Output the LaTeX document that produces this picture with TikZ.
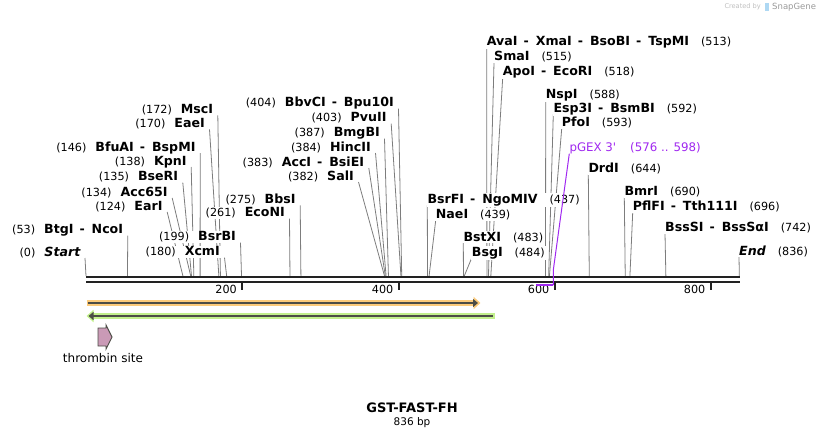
\documentclass[tikz,border=0pt]{standalone}
\usepackage{fontspec}
\setmainfont{DejaVu Sans}
\usetikzlibrary{arrows.meta,positioning}
\pgfdeclarelayer{bg}
\pgfsetlayers{bg,main}

\definecolor{cutgray}{RGB}{125,125,125}
\definecolor{bbdark}{RGB}{34,34,34}
\definecolor{featdark}{RGB}{77,77,70}
\definecolor{glowO}{RGB}{253,203,122}
\definecolor{glowG}{RGB}{194,240,140}
\definecolor{thrombin}{RGB}{202,154,182}
\definecolor{gexpurple}{RGB}{160,40,240}
\definecolor{sgblue}{RGB}{120,190,235}

\newcommand{\enz}[1]{{\fontsize{12.6}{14}\selectfont\bfseries #1}}
\newcommand{\dsh}{\hspace{6pt}-\hspace{7pt}}
\newcommand{\leftlab}[2]{(#1)\hspace{9pt}\enz{#2}}
\newcommand{\rightlab}[2]{\enz{#2}\hspace{12pt}(#1)}

\begin{document}
\begin{tikzpicture}[x=1pt,y=-1pt,
  lab/.style={inner sep=1pt, fill=white, font=\fontsize{11.2}{13}\selectfont},
  llab/.style={lab, anchor=base east},
  rlab/.style={lab, anchor=base west},
  cut/.style={cutgray, line width=0.8pt},
  bbline/.style={bbdark, line width=2.4pt},
  tickline/.style={bbdark, line width=2pt}]
\useasboundingbox (0,0) rectangle (826,439);

% cut sites on the backbone
\foreach \p in {0,53,124,134,135,138,146,170,172,180,199,261,275,382,383,384,387,403,404,
                437,439,483,484,513,515,518,588,592,593,644,690,696,742,836}
  \coordinate (c\p) at ({86+0.7815*\p},276);

% labels left of their line
\node[llab] at (81.5,256)	(Start) {(0)\hspace{9pt}\enz{\itshape Start}};
\node[llab] at (124.3,233.5)	(BtgI) {\leftlab{53}{BtgI\dsh NcoI}};
\node[llab] at (163.7,210)	(EarI) {\leftlab{124}{EarI}};
\node[llab] at (168.7,196)	(Acc65I) {\leftlab{134}{Acc65I}};
\node[llab] at (179.3,180.7)	(BseRI) {\leftlab{135}{BseRI}};
\node[llab] at (187.7,165)	(KpnI) {\leftlab{138}{KpnI}};
\node[llab] at (196.7,151)	(BfuAI) {\leftlab{146}{BfuAI\dsh BspMI}};
\node[llab] at (206,127.3)	(EaeI) {\leftlab{170}{EaeI}};
\node[llab] at (214.3,113.3)	(MscI) {\leftlab{172}{MscI}};
\node[llab] at (221,255.7)	(XcmI) {\leftlab{180}{XcmI}};
\node[llab] at (237,240.7)	(BsrBI) {\leftlab{199}{BsrBI}};
\node[llab] at (286,216.7)	(EcoNI) {\leftlab{261}{EcoNI}};
\node[llab] at (296.7,203.3)	(BbsI) {\leftlab{275}{BbsI}};
\node[llab] at (355,180)	(SalI) {\leftlab{382}{SalI}};
\node[llab] at (365.3,166)	(AccI) {\leftlab{383}{AccI\dsh BsiEI}};
\node[llab] at (372,151)	(HincII) {\leftlab{384}{HincII}};
\node[llab] at (381,136.7)	(BmgBI) {\leftlab{387}{BmgBI}};
\node[llab] at (387.7,121.7)	(PvuII) {\leftlab{403}{PvuII}};
\node[llab] at (395,106.7)	(BbvCI) {\leftlab{404}{BbvCI\dsh Bpu10I}};

% labels right of their line
\node[rlab] at (426.3,203.3)	(BsrFI) {\rightlab{437}{BsrFI\dsh NgoMIV}};
\node[rlab] at (434.7,218.3)	(NaeI) {\rightlab{439}{NaeI}};
\node[rlab] at (462.3,241)	(BstXI) {\rightlab{483}{BstXI}};
\node[rlab] at (470.7,256)	(BsgI) {\rightlab{484}{BsgI}};
\node[rlab] at (485.7,45.7)	(AvaI) {\rightlab{513}{AvaI\dsh XmaI\dsh BsoBI\dsh TspMI}};
\node[rlab] at (493,60.7)	(SmaI) {\rightlab{515}{SmaI}};
\node[rlab] at (501.7,75.7)	(ApoI) {\rightlab{518}{ApoI\dsh EcoRI}};
\node[rlab] at (544.7,98.3)	(NspI) {\rightlab{588}{NspI}};
\node[rlab] at (552.3,112.3)	(Esp3I) {\rightlab{592}{Esp3I\dsh BsmBI}};
\node[rlab] at (560.7,126.7)	(PfoI) {\rightlab{593}{PfoI}};
\node[rlab, text=gexpurple, font=\fontsize{11.8}{13}\selectfont] at (568.3,151.7) (pGEX) {pGEX 3\textquotesingle\hspace{14pt}(576 .. 598)};
\node[rlab] at (587.3,172.7)	(DrdI) {\rightlab{644}{DrdI}};
\node[rlab] at (623.3,195.7)	(BmrI) {\rightlab{690}{BmrI}};
\node[rlab] at (631.7,210.7)	(PflFI) {\rightlab{696}{PflFI\dsh Tth111I}};
\node[rlab] at (664,231.7)	(BssSI) {\rightlab{742}{BssSI\dsh BssSαI}};
\node[rlab] at (738,255)	(End) {\enz{\itshape End}\hspace{12pt}(836)};

\begin{pgfonlayer}{bg}
\draw[cut] ([shift={(3.5,2)}]Start.base east) -- (c0);
\draw[cut] ([shift={(3.5,2)}]BtgI.base east) -- (c53);
\draw[cut] ([shift={(3.5,2)}]EarI.base east) -- (c124);
\draw[cut] ([shift={(3.5,2)}]Acc65I.base east) -- (c134);
\draw[cut] ([shift={(3.5,2)}]BseRI.base east) -- (c135);
\draw[cut] ([shift={(3.5,2)}]KpnI.base east) -- (c138);
\draw[cut] ([shift={(3.5,2)}]BfuAI.base east) -- (c146);
\draw[cut] ([shift={(3.5,2)}]EaeI.base east) -- (c170);
\draw[cut] ([shift={(3.5,2)}]MscI.base east) -- (c172);
\draw[cut] ([shift={(3.5,2)}]XcmI.base east) -- (c180);
\draw[cut] ([shift={(3.5,2)}]BsrBI.base east) -- (c199);
\draw[cut] ([shift={(3.5,2)}]EcoNI.base east) -- (c261);
\draw[cut] ([shift={(3.5,2)}]BbsI.base east) -- (c275);
\draw[cut] ([shift={(3.5,2)}]SalI.base east) -- (c382);
\draw[cut] ([shift={(3.5,2)}]AccI.base east) -- (c383);
\draw[cut] ([shift={(3.5,2)}]HincII.base east) -- (c384);
\draw[cut] ([shift={(3.5,2)}]BmgBI.base east) -- (c387);
\draw[cut] ([shift={(3.5,2)}]PvuII.base east) -- (c403);
\draw[cut] ([shift={(3.5,2)}]BbvCI.base east) -- (c404);

\draw[cut] ([shift={(1,2)}]BsrFI.base west) -- (c437);
\draw[cut] ([shift={(1,2)}]NaeI.base west) -- (c439);
\draw[cut] ([shift={(1,2)}]BstXI.base west) -- (c483);
\draw[cut] ([shift={(1,2)}]BsgI.base west) -- (c484);
\draw[cut] ([shift={(1,2)}]AvaI.base west) -- (c513);
\draw[cut] ([shift={(1,2)}]SmaI.base west) -- (c515);
\draw[cut] ([shift={(1,2)}]ApoI.base west) -- (c518);
\draw[cut] ([shift={(1,2)}]NspI.base west) -- (c588);
\draw[cut] ([shift={(1,2)}]Esp3I.base west) -- (c592);
\draw[cut] ([shift={(1,2)}]PfoI.base west) -- (c593);
\draw[cut] ([shift={(1,2)}]DrdI.base west) -- (c644);
\draw[cut] ([shift={(1,2)}]BmrI.base west) -- (c690);
\draw[cut] ([shift={(1,2)}]PflFI.base west) -- (c696);
\draw[cut] ([shift={(1,2)}]BssSI.base west) -- (c742);
\draw[cut] ([shift={(1,2)}]End.base west) -- (c836);
\end{pgfonlayer}

% backbone and scale
\draw[bbline] (86,277) -- (740,277);
\draw[bbline] (86,282) -- (740,282);
\draw[tickline] (242.3,282) -- (242.3,290);
\draw[tickline] (398.6,282) -- (398.6,290);
\draw[tickline] (554.9,282) -- (554.9,290);
\draw[tickline] (711.2,282) -- (711.2,290);
\node[lab, fill=none, anchor=base east] at (238,293) (t200) {200};
\node[lab, fill=none, anchor=base east] at (394.5,293) (t400) {400};
\node[lab, fill=none, anchor=base east] at (550.5,293) (t600) {600};
\node[lab, fill=none, anchor=base east] at (706.5,293) (t800) {800};

% pGEX 3' primer
\coordinate (g598) at (553.3,270);
\coordinate (g598b) at (553.3,285);
\coordinate (g576b) at (535.6,285);
\draw[gexpurple, line width=1pt] ([shift={(1,2)}]pGEX.base west) -- (g598) -- (g598b);
\draw[gexpurple, line width=2pt] (g598b) -- (g576b);

% features
\draw[glowO, line width=6pt, -{Triangle[length=7pt,width=12pt]}] (86.5,303) -- (480.5,303);
\draw[featdark, line width=2pt, -{Triangle[length=5pt,width=8pt]}] (87.5,303) -- (478,303);
\draw[glowG, line width=6pt, {Triangle[length=7pt,width=12pt]}-] (86.5,316) -- (494.5,316);
\draw[featdark, line width=2pt, {Triangle[length=5pt,width=8pt]}-] (88.5,316) -- (492.5,316);

\draw[fill=thrombin, draw=featdark, line width=0.9pt]
  (98,328) -- (106,328) -- (106,325) -- (112,337) -- (106,349) -- (106,346) -- (98,346) -- cycle;
\node[lab, fill=none, font=\fontsize{12}{14}\selectfont] at (103,358) (thr) {thrombin site};

% title
\node[lab, fill=none, font=\fontsize{13}{15}\selectfont\bfseries] at (412,408) (title) {GST-FAST-FH};
\node[lab, fill=none, font=\fontsize{10.5}{12}\selectfont] at (412,423) (len) {836 bp};

% credit
\node[lab, fill=none, text=black!25, font=\fontsize{6.6}{8}\selectfont, anchor=east] at (762,7) (cb) {Created by};
\fill[sgblue!60] (765,3) rectangle (769,11);
\node[lab, fill=none, text=black!40, font=\fontsize{8.5}{9}\selectfont, anchor=west] at (771,7) (sg) {SnapGene};
\end{tikzpicture}
\end{document}
